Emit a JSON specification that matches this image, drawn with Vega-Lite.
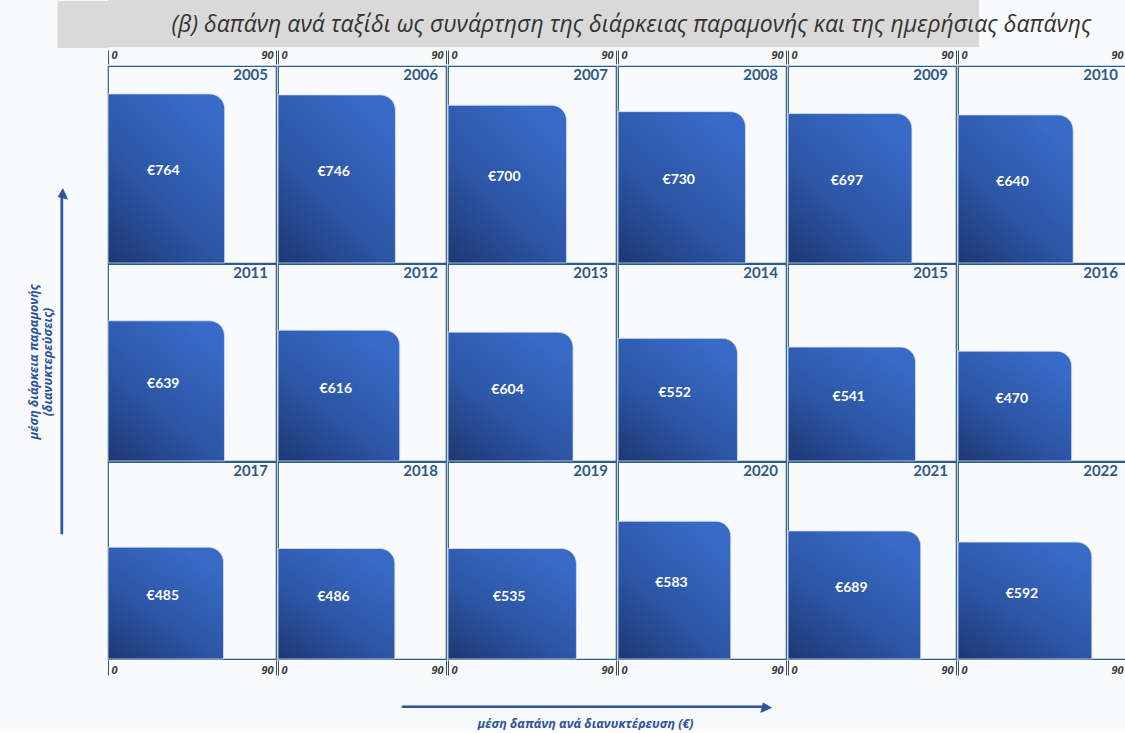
{
  "$schema": "https://vega.github.io/schema/vega-lite/v6.json",
  "background": "#f9fafc",
  "padding": {"left": 27, "top": 0, "right": 0, "bottom": 0},
  "spacing": 1,
  "config": {
    "font": "Open Sans",
    "view": {"stroke": "#2f5d8a", "strokeWidth": 1.2}
  },
  "vconcat": [
    {
      "width": 871,
      "height": 47,
      "view": {"fill": "#d9d9d9", "stroke": null},
      "data": {"values": [{"t": "(β) δαπάνη ανά ταξίδι ως συνάρτηση της διάρκειας παραμονής και της ημερήσιας δαπάνης", "k": "a"}]},
      "mark": {"type": "text", "fontStyle": "italic", "fontSize": 23, "color": "#333333", "dx": 88, "dy": 1},
      "encoding": {
        "text": {"field": "t", "type": "nominal"},
        "y": {"field": "k", "type": "nominal", "axis": {"title": null, "labels": false, "domain": false, "ticks": true, "tickSize": 51, "tickWidth": 47, "tickColor": "#d9d9d9", "tickCap": "butt"}}
      }
    },
    {
      "data": {"values": [
        {"year": "2005", "spend": 62.5, "nights": 10.30, "label": "€764"},
        {"year": "2006", "spend": 62.9, "nights": 10.24, "label": "€746"},
        {"year": "2007", "spend": 63.5, "nights": 9.61, "label": "€700"},
        {"year": "2008", "spend": 68.3, "nights": 9.22, "label": "€730"},
        {"year": "2009", "spend": 66.4, "nights": 9.10, "label": "€697"},
        {"year": "2010", "spend": 61.7, "nights": 9.02, "label": "€640"},
        {"year": "2011", "spend": 62.4, "nights": 8.54, "label": "€639"},
        {"year": "2012", "spend": 65.2, "nights": 7.97, "label": "€616"},
        {"year": "2013", "spend": 67.0, "nights": 7.85, "label": "€604"},
        {"year": "2014", "spend": 64.0, "nights": 7.47, "label": "€552"},
        {"year": "2015", "spend": 68.3, "nights": 6.94, "label": "€541"},
        {"year": "2016", "spend": 60.9, "nights": 6.69, "label": "€470"},
        {"year": "2017", "spend": 61.9, "nights": 6.81, "label": "€485"},
        {"year": "2018", "spend": 62.6, "nights": 6.73, "label": "€486"},
        {"year": "2019", "spend": 68.8, "nights": 6.73, "label": "€535"},
        {"year": "2020", "spend": 60.4, "nights": 8.39, "label": "€583"},
        {"year": "2021", "spend": 71.1, "nights": 7.80, "label": "€689"},
        {"year": "2022", "spend": 71.7, "nights": 7.12, "label": "€592"}
      ]},
      "facet": {
        "field": "year",
        "type": "ordinal",
        "header": {
          "labelExpr": "''",
          "labelFontSize": 1,
          "labelPadding": 0,
          "title": ["μέση διάρκεια παραμονής", "(διανυκτερεύσεις)", "━━━━━━━━━━━━━━━━━━━━━━━━━━━━━━━━━━━━━━━━━━▶"],
          "titleOrient": "left",
          "titleFont": "Open Sans",
          "titleFontSize": 12.5,
          "titleFontWeight": "bold",
          "titleFontStyle": "italic",
          "titleColor": "#2d5499",
          "titleLineHeight": 14,
          "titlePadding": 39
        }
      },
      "columns": 6,
      "spacing": {"row": -3, "column": 0},
      "spec": {
        "width": 168,
        "height": 197,
        "layer": [
          {
            "mark": {
              "type": "rect",
              "cornerRadiusTopRight": 15,
              "fill": {"gradient": "linear", "x1": 0, "y1": 1, "x2": 0.7, "y2": 0, "stops": [{"offset": 0, "color": "#1d3872"}, {"offset": 0.45, "color": "#2c55a4"}, {"offset": 1, "color": "#386bc8"}]},
              "stroke": "#d3e0f2",
              "strokeWidth": 0.8
            },
            "encoding": {
              "x": {"field": "spend", "type": "quantitative", "scale": {"domain": [0, 90], "nice": false}, "axis": {"orient": "bottom", "values": [0, 90], "title": null, "domain": false, "grid": false, "tickSize": 15, "tickColor": "#3e4c5e", "tickWidth": 1, "labelPadding": -11, "labelFlush": true, "labelFlushOffset": -3, "labelFont": "Open Sans", "labelFontSize": 11, "labelFontStyle": "italic", "labelFontWeight": "bold", "labelColor": "#3d3d3d"}},
              "x2": {"datum": 0},
              "y": {"field": "nights", "type": "quantitative", "scale": {"domain": [0, 12], "nice": false}, "axis": {"orient": "left", "values": [12], "title": null, "domain": false, "grid": false, "tickSize": 21, "tickColor": "#3e4c5e", "tickWidth": 1, "labelPadding": -13, "labelBaseline": "top", "labelOffset": 3, "labelFlush": false, "labelFont": "Open Sans", "labelFontSize": 11, "labelFontStyle": "italic", "labelFontWeight": "bold", "labelColor": "#3d3d3d"}},
              "y2": {"datum": 0}
            }
          },
          {
            "mark": {"type": "text", "font": "Lato", "fontSize": 14, "fontWeight": "bold", "color": "#ffffff", "dx": {"expr": "-datum.spend*168/180 - 3"}, "dy": {"expr": "datum.nights*197/24 - 7"}},
            "encoding": {
              "x": {"field": "spend", "type": "quantitative", "scale": {"domain": [0, 90], "nice": false}, "axis": null},
              "y": {"field": "nights", "type": "quantitative", "scale": {"domain": [0, 12], "nice": false}, "axis": null},
              "text": {"field": "label", "type": "nominal"}
            }
          },
          {
            "mark": {"type": "text", "font": "Lato", "fontSize": 15, "fontWeight": "bold", "color": "#2c5a87", "align": "right", "baseline": "top", "dx": -8, "dy": 2},
            "encoding": {
              "x": {"datum": 90, "type": "quantitative", "scale": {"domain": [0, 90], "nice": false}, "axis": {"orient": "top", "values": [0, 90], "title": null, "domain": false, "grid": false, "tickSize": 14, "tickColor": "#3e4c5e", "tickWidth": 1, "labelPadding": -10, "labelFlush": true, "labelFlushOffset": -3, "labelFont": "Open Sans", "labelFontSize": 11, "labelFontStyle": "italic", "labelFontWeight": "bold", "labelColor": "#3d3d3d"}},
              "y": {"datum": 12, "type": "quantitative", "scale": {"domain": [0, 12], "nice": false}, "axis": null},
              "text": {"field": "year", "type": "nominal"}
            }
          }
        ]
      }
    },
    {
      "width": 954,
      "height": 1,
      "view": {"stroke": null},
      "data": {"values": [{"v": 0}]},
      "mark": {"type": "point", "opacity": 0},
      "encoding": {
        "x": {"field": "v", "type": "quantitative", "axis": {"orient": "bottom", "title": ["━━━━━━━━━━━━━━━━━━━━━━━━━━━━━━━━━━━━━━━━━━━━━▶", "μέση δαπάνη ανά διανυκτέρευση (€)"], "labels": false, "ticks": false, "domain": false, "grid": false, "titlePadding": 19, "titleFontSize": 12.5, "titleFontWeight": "bold", "titleFontStyle": "italic", "titleColor": "#2d5499", "titleLineHeight": 17}}
      }
    }
  ]
}
